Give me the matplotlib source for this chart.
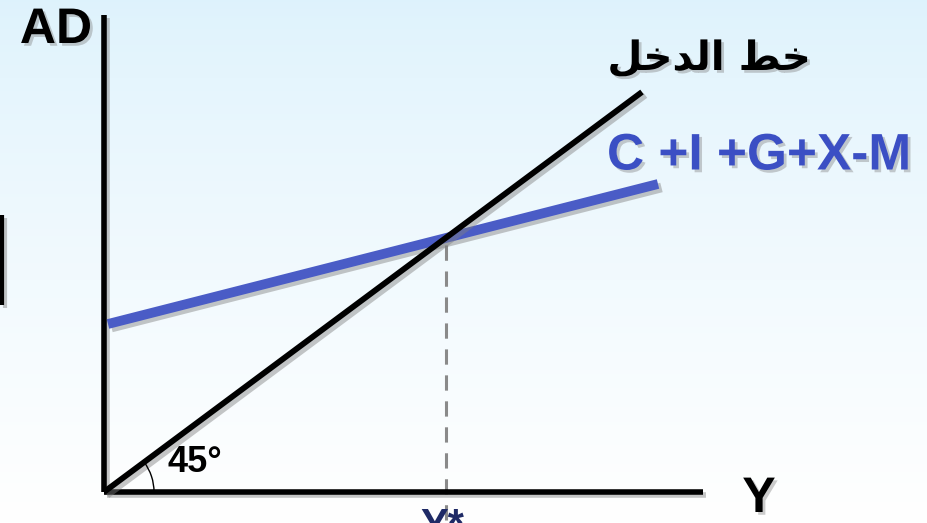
import numpy as np
import matplotlib.pyplot as plt
import matplotlib.patheffects as pe
from matplotlib.patches import Arc

# Diagram data (1 unit ~ 50 px)
axis_len_x = 11.98
axis_len_y = 9.54

# 45-degree income line
income_x = [0.0, 10.76]
income_y = [0.0, 8.0]

# aggregate expenditure line C+I+G+X-M
ae_x = [0.08, 11.08]
ae_y = [3.36, 6.16]

label_income = "\uFEDE\uFEA7\uFEAA\uFEDF\uFE8D \uFEC2\uFEA7"   # خط الدخل (shaped, visual order)
label_ae = "C +I +G+X-M"

fig = plt.figure(figsize=(9.27, 5.23), dpi=100)
ax = fig.add_axes([0, 0, 1, 1])
ax.set_xlim(-2.08, 16.46)
ax.set_ylim(-0.62, 9.84)
ax.axis('off')

# background gradient light blue -> white
grad = np.linspace(0, 1, 256).reshape(-1, 1)
top = np.array([0.87, 0.95, 0.99])
bot = np.array([1.0, 1.0, 1.0])
img = top + (bot - top) * grad[:, :, None] ** 0.8
ax.imshow(img, extent=[-2.08, 16.46, -0.62, 9.84], aspect='auto', zorder=0)

shadow = [pe.SimpleLineShadow(offset=(2.5, -2.5), shadow_color='gray', alpha=0.45), pe.Normal()]
tshadow = [pe.SimplePatchShadow(offset=(2, -2), shadow_rgbFace='gray', alpha=0.4), pe.Normal()]

# axes
ax.plot([0, 0], [0, axis_len_y], color='black', lw=4.0, solid_capstyle='butt', path_effects=shadow, zorder=3)
ax.plot([0, axis_len_x], [0, 0], color='black', lw=4.0, solid_capstyle='butt', path_effects=shadow, zorder=3)

# fragment at left edge
ax.plot([-2.04, -2.04], [3.74, 5.54], color='black', lw=3.0, solid_capstyle='butt', path_effects=shadow, zorder=3)

# lines
ax.plot(ae_x, ae_y, color='#4a5cc6', lw=7.0, solid_capstyle='butt', path_effects=shadow, zorder=4)
ax.plot(income_x, income_y, color='black', lw=4.2, solid_capstyle='butt', path_effects=shadow, zorder=5)

# equilibrium
s1 = (income_y[1] - income_y[0]) / (income_x[1] - income_x[0])
s2 = (ae_y[1] - ae_y[0]) / (ae_x[1] - ae_x[0])
b2 = ae_y[0] - s2 * ae_x[0]
xe = b2 / (s1 - s2)
ye = s1 * xe
ax.plot([xe, xe], [ye - 0.14, -0.7], color='#8a8a8a', lw=2.2, ls=(0, (5, 3.5)), zorder=2)

# angle arc
ang = np.degrees(np.arctan2(income_y[1] * 1.0, income_x[1]))
ax.add_patch(Arc((0, 0), 2.0, 2.0, theta1=0, theta2=ang, color='black', lw=1.0, zorder=6))

# texts
ax.text(-0.96, 9.24, "AD", fontsize=36, fontweight='bold', family='Liberation Sans',
        ha='center', va='center', path_effects=tshadow, zorder=7)
ax.text(13.1, -0.14, "Y", fontsize=36, fontweight='bold', family='Liberation Sans',
        ha='center', va='center', path_effects=tshadow, zorder=7)
ax.text(1.28, 0.6, "45°", fontsize=26, fontweight='bold', family='Liberation Sans',
        ha='left', va='center', zorder=7)
ax.text(12.1, 8.66, label_income, fontsize=29, fontweight='bold', family=['DejaVu Sans'],
        ha='center', va='center', path_effects=tshadow, zorder=7)
ax.text(10.06, 6.72, label_ae, fontsize=37, fontweight='bold', family='Liberation Sans',
        color='#3b4fc4', ha='left', va='center', path_effects=tshadow, zorder=7)
ax.text(6.32, -0.70, "Y*", fontsize=30, fontweight='bold', family='Liberation Sans',
        color='#1f2a66', ha='left', va='center', zorder=7)

fig.savefig('out.png', dpi=100)
